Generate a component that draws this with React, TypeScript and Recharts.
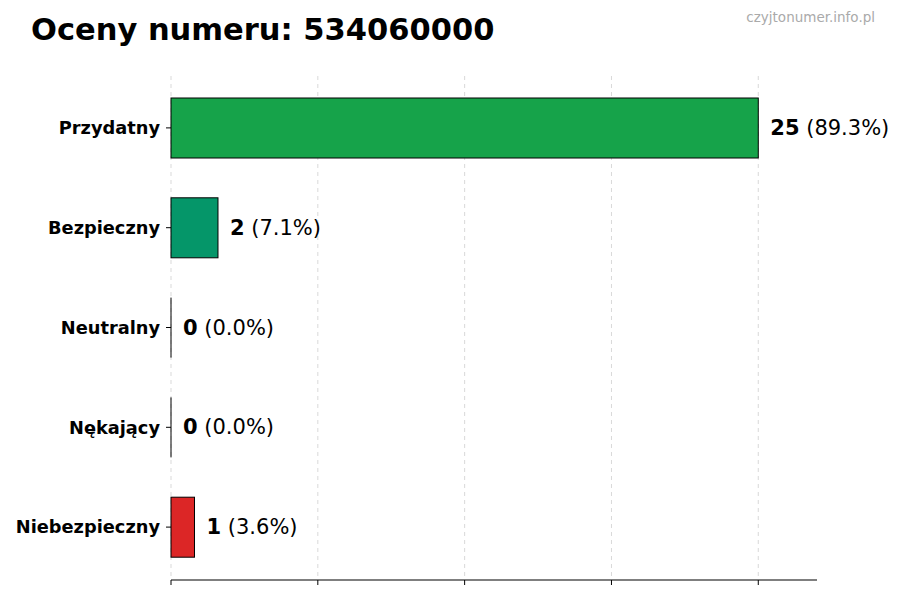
import { Bar, BarChart, CartesianGrid, Cell, LabelList, XAxis, YAxis } from "recharts";

const categories = ["Przydatny", "Bezpieczny", "Neutralny", "Nękający", "Niebezpieczny"];
const counts = [25, 2, 0, 0, 1];
const percents = ["89.3%", "7.1%", "0.0%", "0.0%", "3.6%"];
const barColors = ["#16a34a", "#059669", "#6b7280", "#f97316", "#dc2626"];
const xTicks = [0, 6.25, 12.5, 18.75, 25];

const FONT = "'DejaVu Sans', sans-serif";

const chartData = categories.map((name, i) => ({
  name,
  count: counts[i],
  percent: percents[i],
}));

function BarShape(props: any) {
  const { x, y, width, height, fill } = props;
  if (!width) {
    return <line x1={x} x2={x} y1={y} y2={y + height} stroke="#000" strokeWidth={1} />;
  }
  return <rect x={x} y={y} width={width} height={height} fill={fill} stroke="#000" strokeWidth={1} />;
}

function ValueLabel(props: any) {
  const { x, y, width, height, index } = props;
  const row = chartData[index];
  return (
    <text x={x + width + 12} y={y + height / 2} dominantBaseline="central" fontFamily={FONT} fontSize={21} fill="#000">
      <tspan fontWeight="bold">{row.count}</tspan>
      <tspan> ({row.percent})</tspan>
    </text>
  );
}

export default function App() {
  return (
    <div style={{ position: "absolute", left: 0, top: 0, width: 900, height: 600, background: "#fff", fontFamily: FONT }}>
      <div style={{ position: "absolute", left: 31, top: 10, fontSize: 30.5, fontWeight: "bold", color: "#000", lineHeight: "40px" }}>
        Oceny numeru: 534060000
      </div>
      <div style={{ position: "absolute", right: 25, top: 8, fontSize: 13.5, color: "#aaaaaa", lineHeight: "18px" }}>
        czyjtonumer.info.pl
      </div>
      <BarChart
        width={900}
        height={600}
        layout="vertical"
        data={chartData}
        margin={{ top: 76, right: 83, bottom: 0, left: 0 }}
        barSize={60}
      >
        <CartesianGrid horizontal={false} verticalValues={xTicks} stroke="#d9d9d9" strokeDasharray="4 4" />
        <XAxis
          type="number"
          domain={[0, 27.5]}
          ticks={xTicks}
          height={20}
          axisLine={{ stroke: "#000", strokeWidth: 1.2 }}
          tickLine={{ stroke: "#000" }}
          tickSize={5}
          tick={() => <g />}
        />
        <YAxis
          type="category"
          dataKey="name"
          width={171}
          padding={{ top: 2, bottom: 3 }}
          axisLine={false}
          tickLine={{ stroke: "#000" }}
          tickSize={5}
          tickMargin={6}
          tick={{ fill: "#000", fontSize: 17.8, fontWeight: "bold", fontFamily: FONT }}
        />
        <Bar dataKey="count" isAnimationActive={false} shape={<BarShape />}>
          {chartData.map((row, i) => (
            <Cell key={row.name} fill={barColors[i]} />
          ))}
          <LabelList dataKey="count" content={<ValueLabel />} />
        </Bar>
      </BarChart>
    </div>
  );
}
